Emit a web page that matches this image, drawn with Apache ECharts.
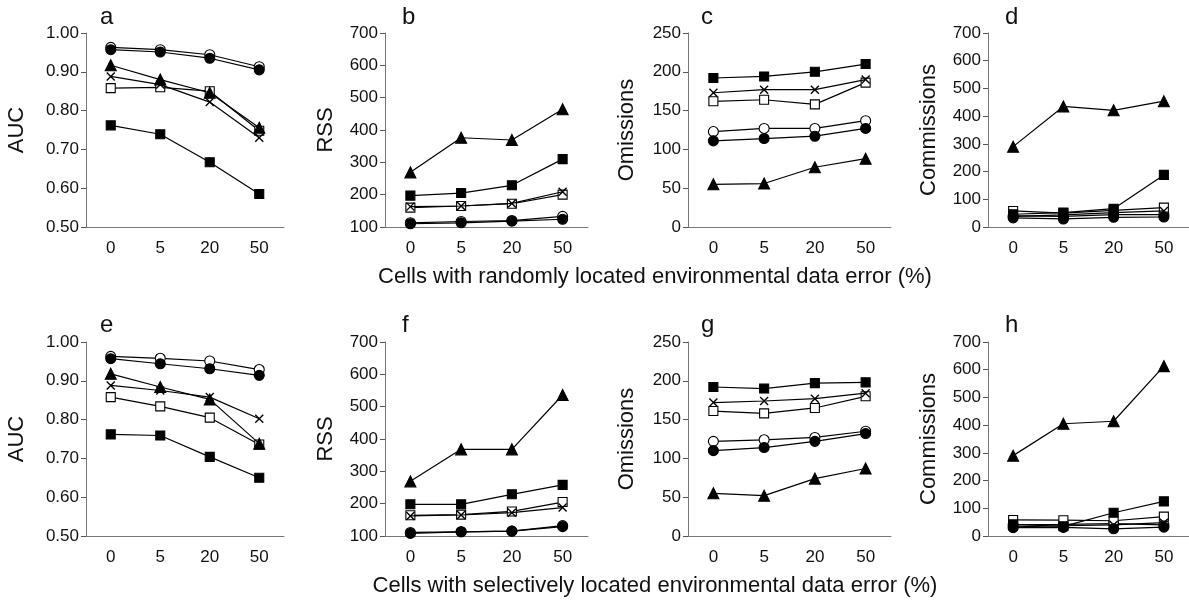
<!DOCTYPE html>
<html>
<head>
<meta charset="utf-8">
<script src="https://cdn.jsdelivr.net/npm/echarts@6/dist/echarts.min.js"></script>
<style>
html,body{margin:0;padding:0;background:#fff;}
#chart{width:1189px;height:600px;}
</style>
</head>
<body>
<div id="chart"></div>
<script>
// ---------- DATA ----------
const categories = ['0', '5', '20', '50'];
const seriesKinds = ['Filled circle', 'Open circle', 'Cross', 'Open square', 'Filled square', 'Filled triangle'];
const panelLetters = ['a', 'b', 'c', 'd', 'e', 'f', 'g', 'h'];
const yTitles = ['AUC', 'RSS', 'Omissions', 'Commissions'];
const xTitleRandom = 'Cells with randomly located environmental data error (%)';
const xTitleSelective = 'Cells with selectively located environmental data error (%)';

// a: AUC, random
const a_filledCircle = [0.957, 0.951, 0.935, 0.905];
const a_openCircle   = [0.963, 0.957, 0.944, 0.913];
const a_cross        = [0.888, 0.867, 0.822, 0.730];
const a_openSquare   = [0.858, 0.860, 0.850, 0.748];
const a_filledSquare = [0.762, 0.739, 0.667, 0.585];
const a_triangle     = [0.917, 0.880, 0.846, 0.756];
// b: RSS, random
const b_filledCircle = [110, 113, 118, 124];
const b_openCircle   = [113, 117, 120, 133];
const b_cross        = [163, 165, 173, 209];
const b_openSquare   = [160, 165, 172, 200];
const b_filledSquare = [197, 205, 229, 310];
const b_triangle     = [269, 376, 369, 464];
// c: Omissions, random
const c_filledCircle = [111, 114, 117, 127];
const c_openCircle   = [123, 127, 127, 137];
const c_cross        = [173, 177, 177, 190];
const c_openSquare   = [162, 164, 158, 186];
const c_filledSquare = [192, 194, 200, 210];
const c_triangle     = [55, 56, 77, 88];
// d: Commissions, random
const d_filledCircle = [33, 29, 35, 36];
const d_openCircle   = [40, 38, 45, 45];
const d_cross        = [38, 44, 52, 58];
const d_openSquare   = [58, 50, 60, 70];
const d_filledSquare = [46, 52, 66, 188];
const d_triangle     = [290, 435, 421, 454];
// e: AUC, selective
const e_filledCircle = [0.957, 0.944, 0.931, 0.914];
const e_openCircle   = [0.963, 0.958, 0.951, 0.929];
const e_cross        = [0.888, 0.875, 0.858, 0.802];
const e_openSquare   = [0.858, 0.834, 0.805, 0.736];
const e_filledSquare = [0.762, 0.759, 0.704, 0.650];
const e_triangle     = [0.918, 0.884, 0.852, 0.738];
// f: RSS, selective
const f_filledCircle = [108, 113, 115, 129];
const f_openCircle   = [111, 113, 115, 132];
const f_cross        = [162, 165, 172, 188];
const f_openSquare   = [164, 166, 176, 205];
const f_filledSquare = [198, 198, 229, 258];
const f_triangle     = [269, 368, 368, 536];
// g: Omissions, selective
const g_filledCircle = [110, 114, 122, 132];
const g_openCircle   = [122, 124, 127, 135];
const g_cross        = [172, 174, 177, 184];
const g_openSquare   = [161, 158, 165, 180];
const g_filledSquare = [192, 190, 197, 198];
const g_triangle     = [55, 52, 74, 87];
// h: Commissions, selective
const h_filledCircle = [30, 31, 26, 32];
const h_openCircle   = [40, 42, 45, 40];
const h_cross        = [33, 37, 40, 48];
const h_openSquare   = [58, 57, 55, 70];
const h_filledSquare = [42, 35, 84, 125];
const h_triangle     = [290, 405, 414, 613];

// y axis ranges per column
const yMins = [0.5, 100, 0, 0];
const yMaxs = [1.0, 700, 250, 700];
const yIntervals = [0.1, 100, 50, 100];

const panelData = [
  [a_filledCircle, a_openCircle, a_cross, a_openSquare, a_filledSquare, a_triangle],
  [b_filledCircle, b_openCircle, b_cross, b_openSquare, b_filledSquare, b_triangle],
  [c_filledCircle, c_openCircle, c_cross, c_openSquare, c_filledSquare, c_triangle],
  [d_filledCircle, d_openCircle, d_cross, d_openSquare, d_filledSquare, d_triangle],
  [e_filledCircle, e_openCircle, e_cross, e_openSquare, e_filledSquare, e_triangle],
  [f_filledCircle, f_openCircle, f_cross, f_openSquare, f_filledSquare, f_triangle],
  [g_filledCircle, g_openCircle, g_cross, g_openSquare, g_filledSquare, g_triangle],
  [h_filledCircle, h_openCircle, h_cross, h_openSquare, h_filledSquare, h_triangle]
];

// ---------- LAYOUT ----------
const gridLefts = [86, 385, 688, 988];
const gridWidths = [198, 203, 203, 201];
const gridTops = [33, 342];
const gridHeight = 194;
const yNameGaps = [58, 48, 50, 48];
const letterX = [100, 402, 701, 1005];
const letterY = [17, 325];

const FONT = '"Liberation Sans", Arial, Helvetica, sans-serif';

// drawing order (z): open circle < open square < cross < filled circle < filled square < triangle
const symbolStyles = [
  {symbol: 'circle', size: 10, fill: '#000', z: 5},
  {symbol: 'circle', size: 10, fill: '#fff', z: 2},
  {symbol: 'path://M0,0L10,10M10,0L0,10', size: 8, fill: '#000', cross: true, z: 4},
  {symbol: 'rect', size: 9, fill: '#fff', z: 3},
  {symbol: 'rect', size: 9, fill: '#000', z: 6},
  {symbol: 'triangle', size: 11, fill: '#000', z: 7}
];

const grids = [], xAxes = [], yAxes = [], series = [], graphics = [];

for (let p = 0; p < 8; p++) {
  const row = Math.floor(p / 4), col = p % 4;
  grids.push({left: gridLefts[col], top: gridTops[row], width: gridWidths[col], height: gridHeight, containLabel: false});
  xAxes.push({
    type: 'category', gridIndex: p, data: categories, boundaryGap: true,
    axisLine: {show: true, lineStyle: {color: '#777', width: 1}},
    axisTick: {show: false},
    axisLabel: {color: '#111', fontSize: 17, fontFamily: FONT, margin: 13},
    splitLine: {show: false}
  });
  yAxes.push({
    type: 'value', gridIndex: p, min: yMins[col], max: yMaxs[col], interval: yIntervals[col],
    name: yTitles[col], nameLocation: 'middle', nameGap: yNameGaps[col], nameRotate: 90,
    nameTextStyle: {color: '#111', fontSize: 22, fontFamily: FONT},
    axisLine: {show: true, lineStyle: {color: '#777', width: 1}},
    axisTick: {show: true, length: 5, lineStyle: {color: '#555'}},
    axisLabel: {
      color: '#111', fontSize: 17, fontFamily: FONT, margin: 7,
      formatter: col === 0 ? (v => v.toFixed(2)) : (v => String(Math.round(v)))
    },
    splitLine: {show: false}
  });
  panelData[p].forEach((vals, s) => {
    const st = symbolStyles[s];
    series.push({
      name: seriesKinds[s], type: 'line', xAxisIndex: p, yAxisIndex: p,
      data: vals, symbol: st.symbol, symbolSize: st.size, showSymbol: true,
      lineStyle: {color: '#000', width: 1.2},
      itemStyle: st.cross ? {color: '#000', borderColor: '#000', borderWidth: 1.4}
                          : {color: st.fill, borderColor: '#000', borderWidth: 1.1},
      emphasis: {disabled: true}, silent: true, z: st.z
    });
  });
  graphics.push({
    type: 'text', x: letterX[col], y: letterY[row],
    style: {text: panelLetters[p], fill: '#111', font: '24px ' + FONT, textAlign: 'left', textVerticalAlign: 'middle'}
  });
}

graphics.push({
  type: 'text', x: 655, y: 277,
  style: {text: xTitleRandom, fill: '#111', font: '22px ' + FONT, textAlign: 'center', textVerticalAlign: 'middle'}
});
graphics.push({
  type: 'text', x: 655, y: 586,
  style: {text: xTitleSelective, fill: '#111', font: '22px ' + FONT, textAlign: 'center', textVerticalAlign: 'middle'}
});

const chart = echarts.init(document.getElementById('chart'), null, {renderer: 'canvas'});
chart.setOption({
  animation: false,
  backgroundColor: '#fff',
  grid: grids, xAxis: xAxes, yAxis: yAxes, series: series,
  graphic: graphics
});
</script>
</body>
</html>
